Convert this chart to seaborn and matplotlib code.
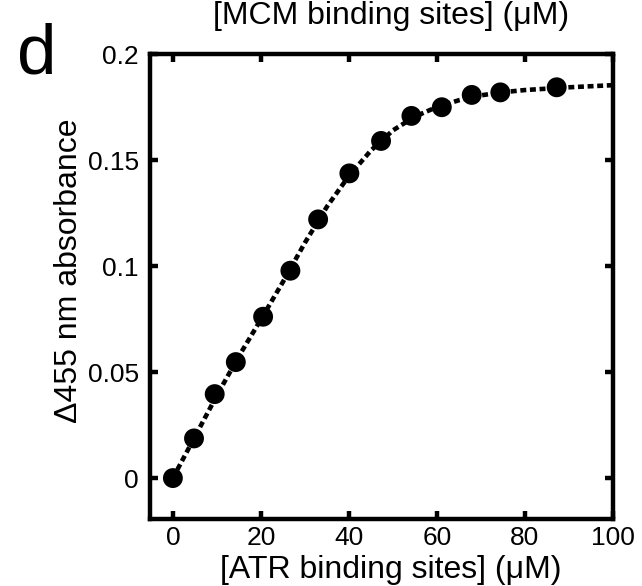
import matplotlib
matplotlib.use("Agg")
import matplotlib.pyplot as plt
import numpy as np
import pandas as pd
import seaborn as sns

# ---- data ----
atr_uM = [0, 4.8, 9.5, 14.3, 20.5, 26.7, 33.0, 40.1, 47.3, 54.2, 61.1, 67.9, 74.4, 87.2]
delta_abs = [0.0, 0.0187, 0.0396, 0.0547, 0.0761, 0.0978, 0.1220, 0.1437, 0.1590,
             0.1708, 0.1749, 0.1807, 0.1819, 0.1843]

fit_x = [0, 5, 10, 15, 20, 25, 30, 35, 40, 45, 50, 55, 60, 65, 70, 75, 80, 90, 100]
fit_y = [0.0, 0.0195, 0.0390, 0.0575, 0.0748, 0.0925, 0.1110, 0.1280, 0.1425, 0.1545,
         0.1640, 0.1705, 0.1750, 0.1782, 0.1805, 0.1820, 0.1830, 0.1843, 0.1853]

x_ticks = [0, 20, 40, 60, 80, 100]
x_tick_labels = ["0", "20", "40", "60", "80", "100"]
y_ticks = [0, 0.05, 0.1, 0.15, 0.2]
y_tick_labels = ["0", "0.05", "0.1", "0.15", "0.2"]

xlabel = "[ATR binding sites] (\u03bcM)"
ylabel = "\u0394455 nm absorbance"
top_label = "[MCM binding sites] (\u03bcM)"
panel = "d"

# ---- style ----
sns.set_style("ticks")
plt.rcParams["font.family"] = ["Liberation Sans", "DejaVu Sans"]
plt.rcParams["text.color"] = "black"
plt.rcParams["axes.labelcolor"] = "black"
plt.rcParams["xtick.color"] = "black"
plt.rcParams["ytick.color"] = "black"

W, H = 642, 586
fig = plt.figure(figsize=(W / 100, H / 100), dpi=100)
ax = fig.add_axes([150 / W, 1 - 519 / H, 463 / W, 465 / H])

fit_df = pd.DataFrame({"x": fit_x, "y": fit_y})
pts_df = pd.DataFrame({"x": atr_uM, "y": delta_abs})

sns.lineplot(data=fit_df, x="x", y="y", ax=ax, color="black", lw=3.3,
             linestyle=(0, (1.3, 0.8)), sort=False, estimator=None, zorder=2)
sns.scatterplot(data=pts_df, x="x", y="y", ax=ax, s=205, color="black",
                edgecolor="none", zorder=3, clip_on=False)

ax.set_xlim(-5.2, 100)
ax.set_ylim(-0.0193, 0.2)
ax.set_xticks(x_ticks)
ax.set_xticklabels(x_tick_labels)
ax.set_yticks(y_ticks)
ax.set_yticklabels(y_tick_labels)

for s in ax.spines.values():
    s.set_visible(True)
    s.set_linewidth(3.2)
    s.set_color("black")

ax.tick_params(axis="both", which="major", direction="in", length=6, width=3.2,
               top=True, right=True, labelsize=19, color="black", labelcolor="black")
ax.tick_params(axis="y", pad=8)
ax.tick_params(axis="x", pad=5)

ax.set_xlabel(xlabel, fontsize=23, color="black")
ax.xaxis.set_label_coords((391 - 150) / 463, (519 - 555) / 465)
ax.set_ylabel(ylabel, fontsize=23, color="black")
ax.yaxis.set_label_coords((84 - 150) / 463, (519 - 271) / 465)

fig.text(391 / W, 1 - 24 / H, top_label, fontsize=23, ha="center", va="baseline",
         color="black")
fig.text(17 / W, 1 - 73 / H, panel, fontsize=51, ha="left", va="baseline",
         color="black")

fig.savefig("out.png", dpi=100)
